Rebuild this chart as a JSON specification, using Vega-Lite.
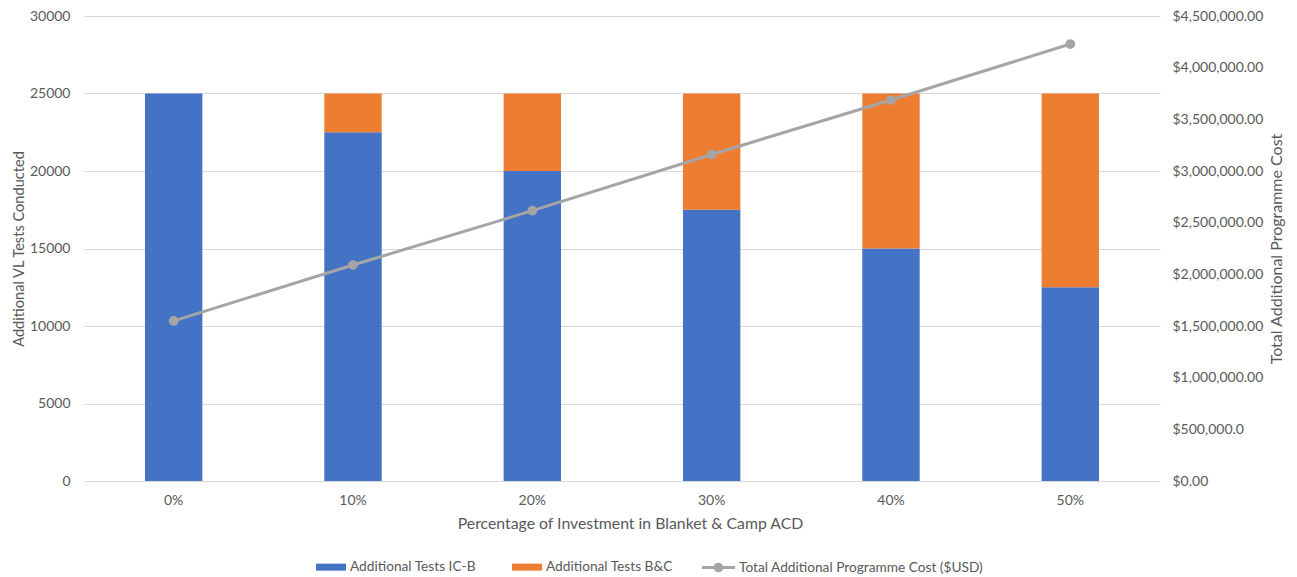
{
  "$schema": "https://vega.github.io/schema/vega-lite/v6.json",
  "width": 1076,
  "height": 465,
  "autosize": {"type": "none"},
  "padding": {"left": 84, "top": 16, "right": 137, "bottom": 96},
  "background": "white",
  "config": {
    "view": {"stroke": null},
    "font": "Lato",
    "axis": {"labelColor": "#595959", "titleColor": "#595959", "labelFontSize": 14, "titleFontSize": 14, "titleFontWeight": "normal", "labelFont": "Lato", "titleFont": "Lato"},
    "legend": {"labelColor": "#595959", "labelFontSize": 13.7, "labelFont": "Lato", "labelLimit": 400}
  },
  "data": {
    "values": [
      {"pct": "0%", "Additional Tests IC-B": 25000, "Additional Tests B&C": 0, "cost": 1549000},
      {"pct": "10%", "Additional Tests IC-B": 22500, "Additional Tests B&C": 2500, "cost": 2090000},
      {"pct": "20%", "Additional Tests IC-B": 20000, "Additional Tests B&C": 5000, "cost": 2616000},
      {"pct": "30%", "Additional Tests IC-B": 17500, "Additional Tests B&C": 7500, "cost": 3160000},
      {"pct": "40%", "Additional Tests IC-B": 15000, "Additional Tests B&C": 10000, "cost": 3687000},
      {"pct": "50%", "Additional Tests IC-B": 12500, "Additional Tests B&C": 12500, "cost": 4229000}
    ]
  },
  "encoding": {
    "x": {
      "field": "pct", "type": "nominal", "sort": null,
      "scale": {"paddingInner": 0.68, "paddingOuter": 0.34},
      "axis": {"title": "Percentage of Investment in Blanket & Camp ACD", "titleFontSize": 15.8, "titleX": 546, "labelAngle": 0, "ticks": false, "domainColor": "#d9d9d9", "labelPadding": 12, "titlePadding": 9}
    }
  },
  "layer": [
    {
      "transform": [{"fold": ["Additional Tests IC-B", "Additional Tests B&C"], "as": ["series", "tests"]}],
      "mark": {"type": "bar"},
      "encoding": {
        "y": {
          "field": "tests", "type": "quantitative", "stack": "zero",
          "scale": {"domain": [0, 30000]},
          "axis": {"title": "Additional VL Tests Conducted", "titleFontSize": 14.6, "values": [0, 5000, 10000, 15000, 20000, 25000, 30000], "format": "d", "gridColor": "#d9d9d9", "ticks": false, "domain": false, "labelPadding": 14, "titlePadding": 3}
        },
        "color": {
          "field": "series", "type": "nominal",
          "scale": {"domain": ["Additional Tests IC-B", "Additional Tests B&C"], "range": ["#4472c4", "#ed7d31"]},
          "legend": {"title": null, "orient": "none", "direction": "horizontal", "legendX": 232, "legendY": 536, "symbolType": "M-1,-0.233H1V0.233H-1Z", "symbolSize": 900, "symbolStrokeWidth": 0, "columnPadding": 36, "labelOffset": 4}
        },
        "order": {"field": "series", "sort": "descending"}
      }
    },
    {
      "mark": {"type": "line", "strokeWidth": 3, "color": "#a5a5a5", "point": {"filled": true, "size": 60, "color": "#a5a5a5"}},
      "encoding": {
        "y": {
          "field": "cost", "type": "quantitative",
          "scale": {"domain": [0, 4500000]},
          "axis": {"orient": "right", "title": "Total Additional Programme Cost", "titleFontSize": 16, "titleAngle": -90, "titleBaseline": "bottom", "values": [0, 500000, 1000000, 1500000, 2000000, 2500000, 3000000, 3500000, 4000000, 4500000], "labelExpr": "datum.value == 500000 ? '$500,000.0' : format(datum.value, '$,.2f')", "grid": false, "ticks": false, "domain": false, "labelPadding": 12, "titlePadding": 22}
        },
        "stroke": {
          "datum": "Total Additional Programme Cost ($USD)",
          "type": "nominal",
          "scale": {"range": ["#a5a5a5"]},
          "legend": {"title": null, "orient": "none", "direction": "horizontal", "legendX": 616, "legendY": 533, "symbolType": "M-1,0H1M0.2,0A0.2,0.2,0,1,1,-0.2,0A0.2,0.2,0,1,1,0.2,0", "symbolSize": 1100, "symbolStrokeWidth": 3, "symbolFillColor": "#a5a5a5", "symbolStrokeColor": "#a5a5a5", "labelOffset": 2}
        }
      }
    }
  ],
  "resolve": {"scale": {"y": "independent", "color": "independent"}}
}
